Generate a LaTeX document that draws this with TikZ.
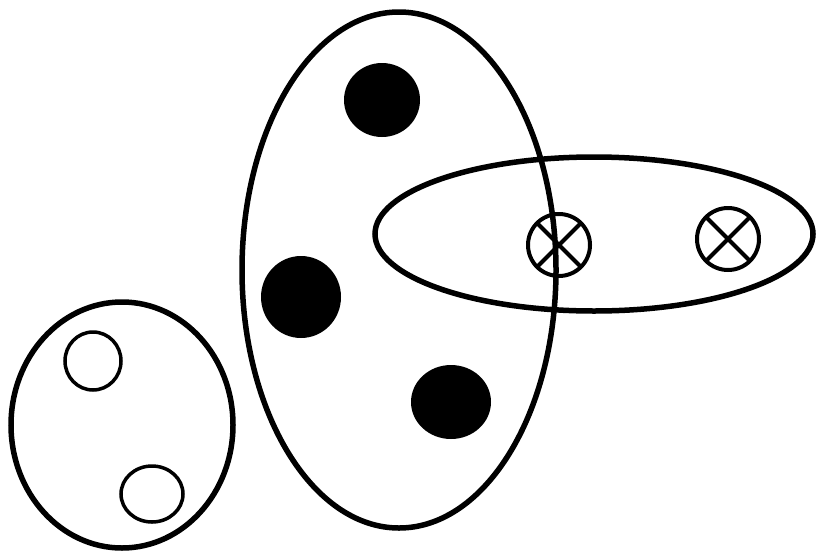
\documentclass[tikz,border=0pt]{standalone}
\begin{document}
\begin{tikzpicture}[x=1pt,y=-1pt,
  bigset/.style={draw=black,line width=5.5pt},
  hollow/.style={draw=black,line width=3.5pt},
  solid/.style={fill=black},
  crossed/.style={draw=black,line width=4pt}]
\useasboundingbox (0,0) rectangle (818,552);
\fill[white] (0,0) rectangle (818,552);
% sets
\draw[bigset] (122,425) ellipse [x radius=111, y radius=123];
\draw[bigset] (399,270) ellipse [x radius=157, y radius=258];
\draw[bigset] (594,234) ellipse [x radius=219, y radius=77];
% hollow points
\draw[hollow] (93,361) ellipse [x radius=28, y radius=29];
\draw[hollow] (152,494) ellipse [x radius=31, y radius=28];
% solid points
\fill[solid] (382,100) ellipse [x radius=38, y radius=37];
\fill[solid] (301,297) ellipse [x radius=40, y radius=41];
\fill[solid] (451,402) ellipse [x radius=40, y radius=37];
% crossed points
\foreach \cx/\cy in {559/245, 728/239}{
  \draw[crossed] (\cx,\cy) circle [radius=31];
  \draw[crossed] (\cx-22,\cy-22) -- (\cx+22,\cy+22);
  \draw[crossed] (\cx-22,\cy+22) -- (\cx+22,\cy-22);
}
\end{tikzpicture}
\end{document}
